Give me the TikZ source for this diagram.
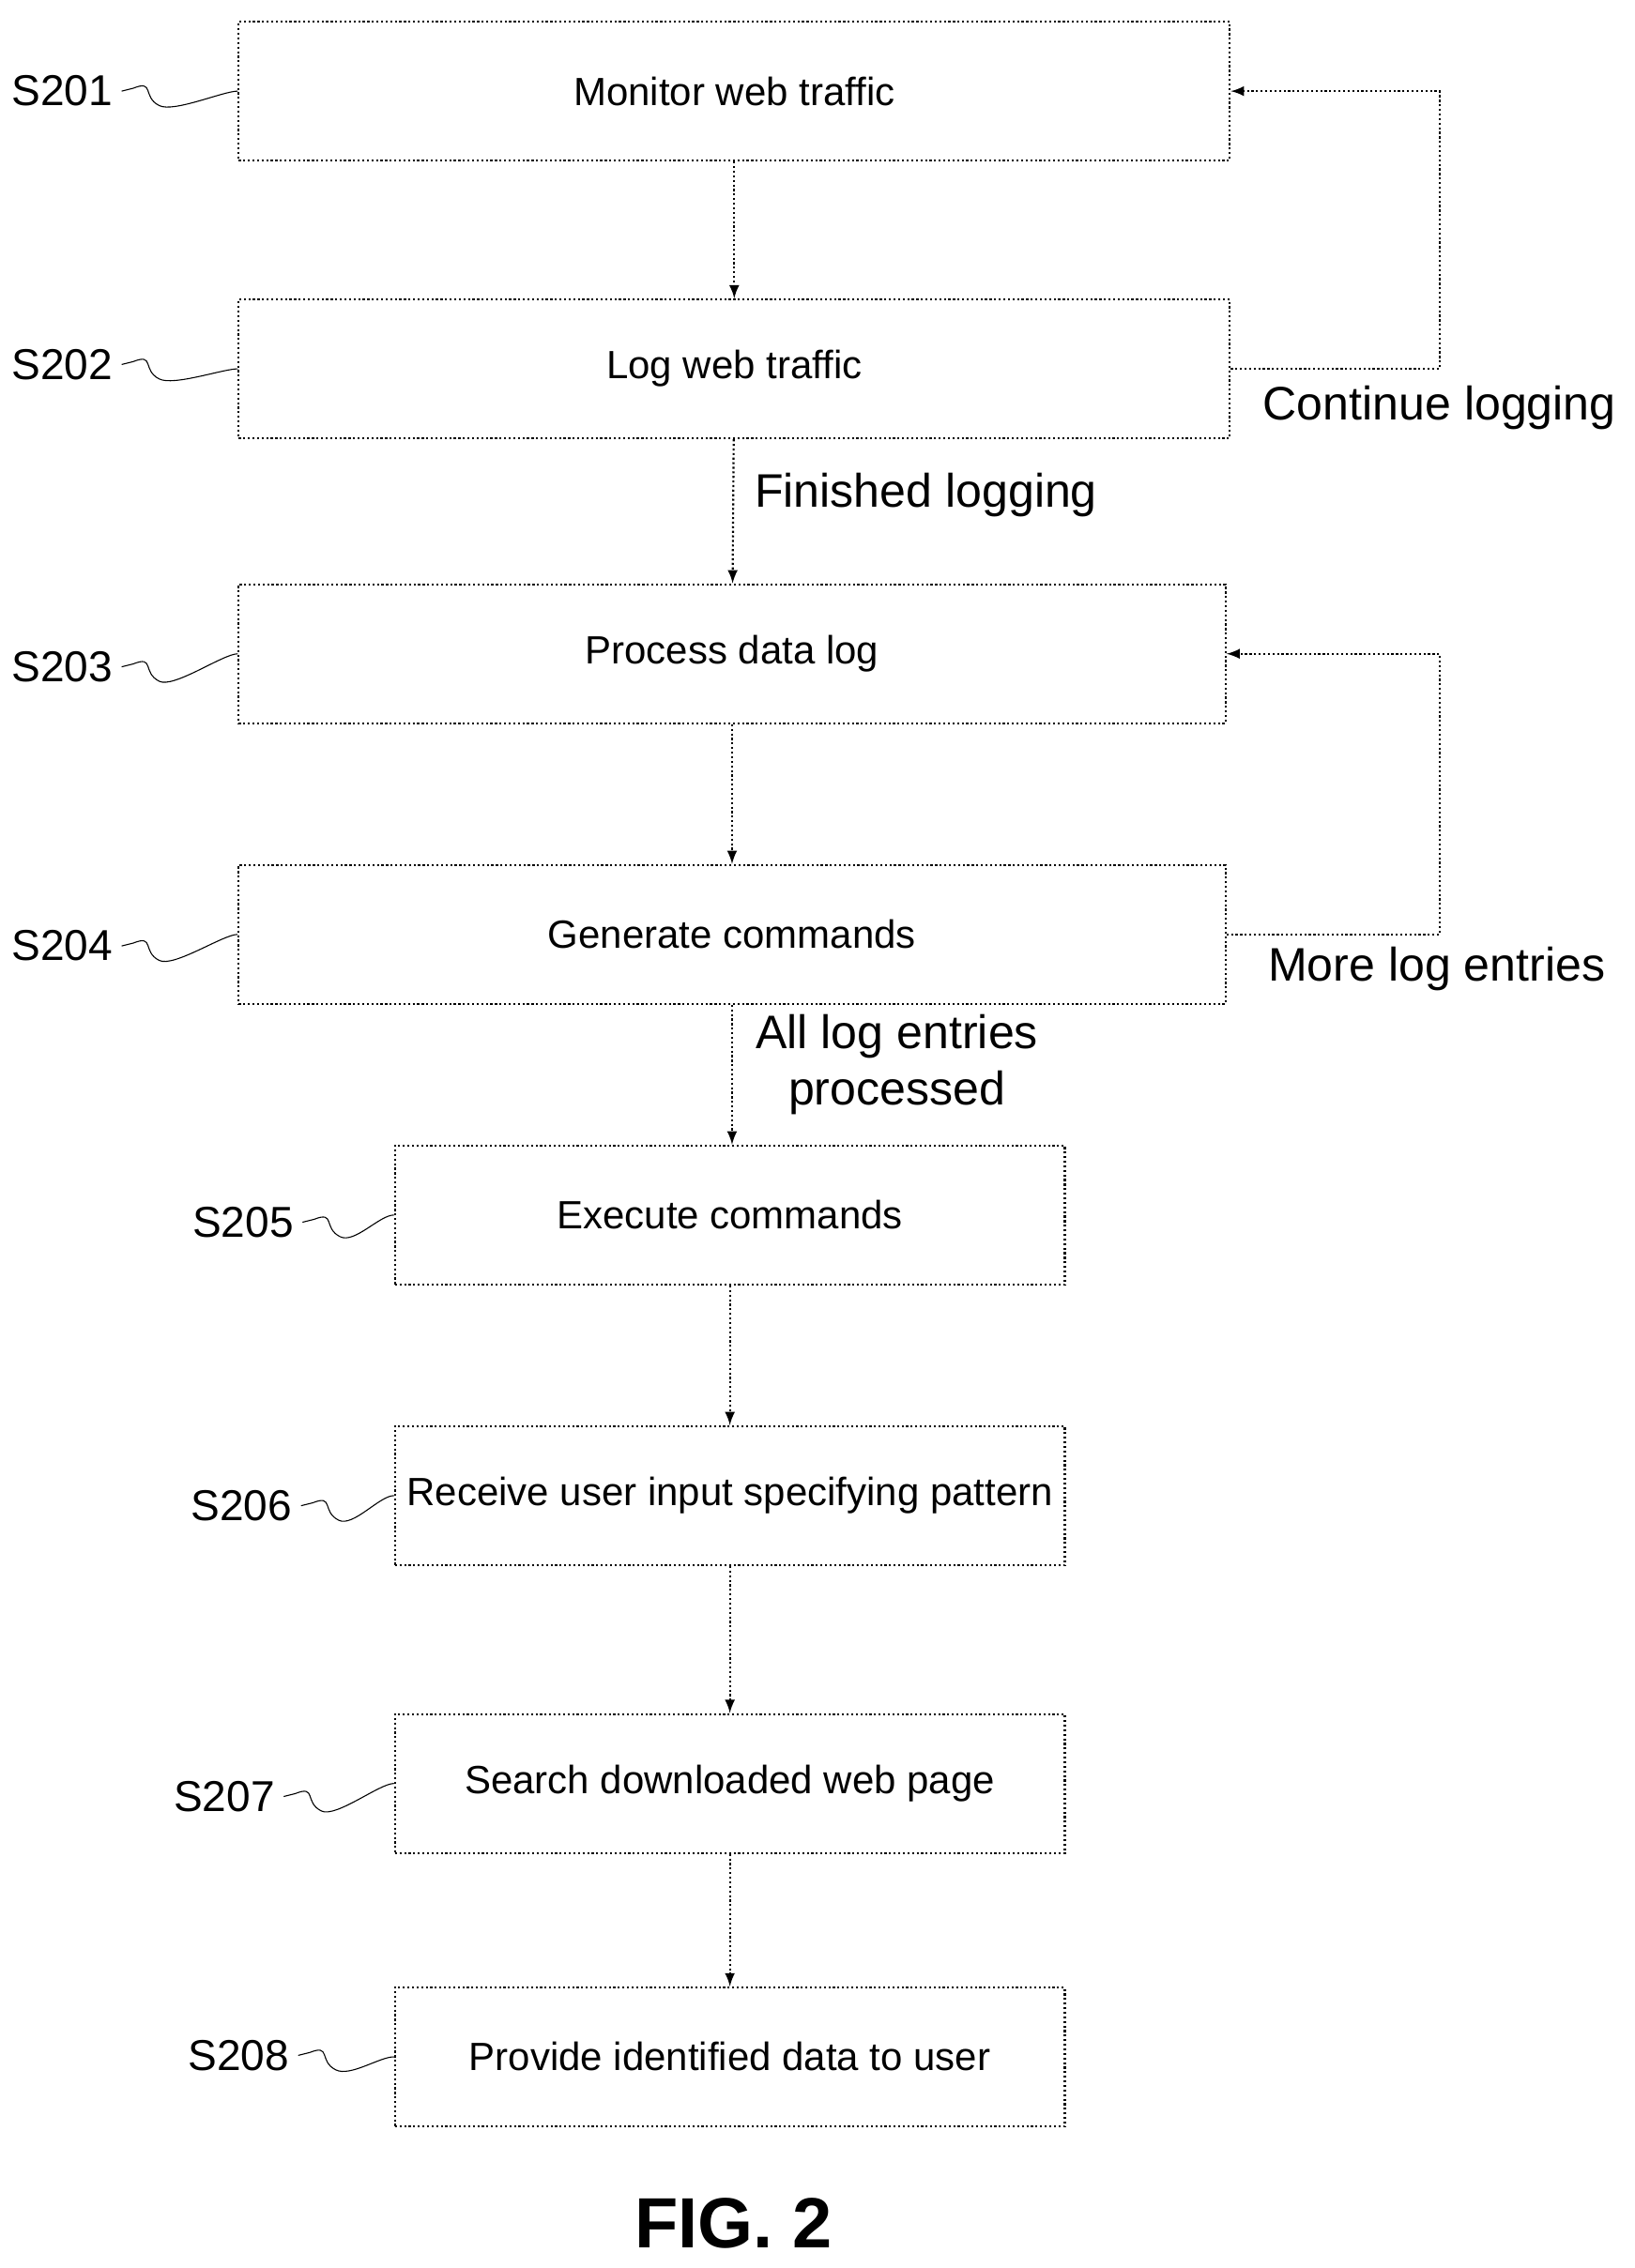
\documentclass[tikz,border=0pt]{standalone}
\usepackage{fontspec}
\setmainfont{Liberation Sans}
\usetikzlibrary{calc}

\tikzset{
  stepbox/.style={draw, densely dotted, thick, inner sep=0pt, font=\fontsize{15.5}{18}\selectfont},
  tag/.style={font=\fontsize{17}{20}\selectfont},
  note/.style={font=\fontsize{18.5}{22}\selectfont, align=center},
  flow/.style={-latex, densely dotted, thick},
  squig/.style={thin}
}

\begin{document}
\begin{tikzpicture}[x=0.02cm, y=-0.02cm]

\useasboundingbox (0,0) rectangle (1130,1568);

% Boxes of the flow: name / left / right / middle / text
\foreach \n/\xa/\xb/\ym/\txt in {
  a/165/850/63/Monitor web traffic,
  b/165/850/255/Log web traffic,
  c/165/847/452/Process data log,
  d/165/847/646/Generate commands,
  e/273/736/840/Execute commands,
  f/273/736/1034/Receive user input specifying pattern,
  g/273/736/1233/Search downloaded web page,
  h/273/736/1422/Provide identified data to user}
{
  \node[stepbox, minimum width={(\xb-\xa)*0.02cm}, minimum height=1.92cm]
    (\n) at ({(\xa+\xb)/2},\ym) {\txt};
}

% Step labels with their little waves
\node[tag] (ta) at (43,63) {S201};
\node[tag] (tb) at (43,252) {S202};
\node[tag] (tc) at (43,461) {S203};
\node[tag] (td) at (43,654) {S204};
\node[tag] (te) at (168,845) {S205};
\node[tag] (tf) at (167,1041) {S206};
\node[tag] (tg) at (155,1242) {S207};
\node[tag] (th) at (165,1421) {S208};

\foreach \n in {a,b,c,d,e,f,g,h}
{
  \draw[squig] (t\n.east) -- ++(8,-2)
    .. controls +(15,-6) and +(-12,-6) .. ++(18,12)
    .. controls +(10,5) and +(-10,0) .. (\n.west);
}

% Main arrows
\draw[flow] (a) -- (b);
\draw[flow] (b) -- (c);
\draw[flow] (c) -- (d);
\draw[flow] (d) -- (d |- e.north);
\draw[flow] (e) -- (f);
\draw[flow] (f) -- (g);
\draw[flow] (g) -- (h);

% Loops back
\coordinate (la) at (995,0);
\draw[flow] (b.east) -| (la |- a.east) -- (a.east);
\draw[flow] (d.east) -| (la |- c.east) -- (c.east);

% Branch notes
\node[note] (nb) at (995,282) {Continue logging};
\node[note] (nd) at (993,670) {More log entries};
\node[note] (nc) at (640,342) {Finished logging};
\node[note] (ne) at (620,736) {All log entries\\processed};

\node[font=\fontsize{28}{32}\selectfont\bfseries] (fig) at (507,1537) {FIG. 2};

\end{tikzpicture}
\end{document}
